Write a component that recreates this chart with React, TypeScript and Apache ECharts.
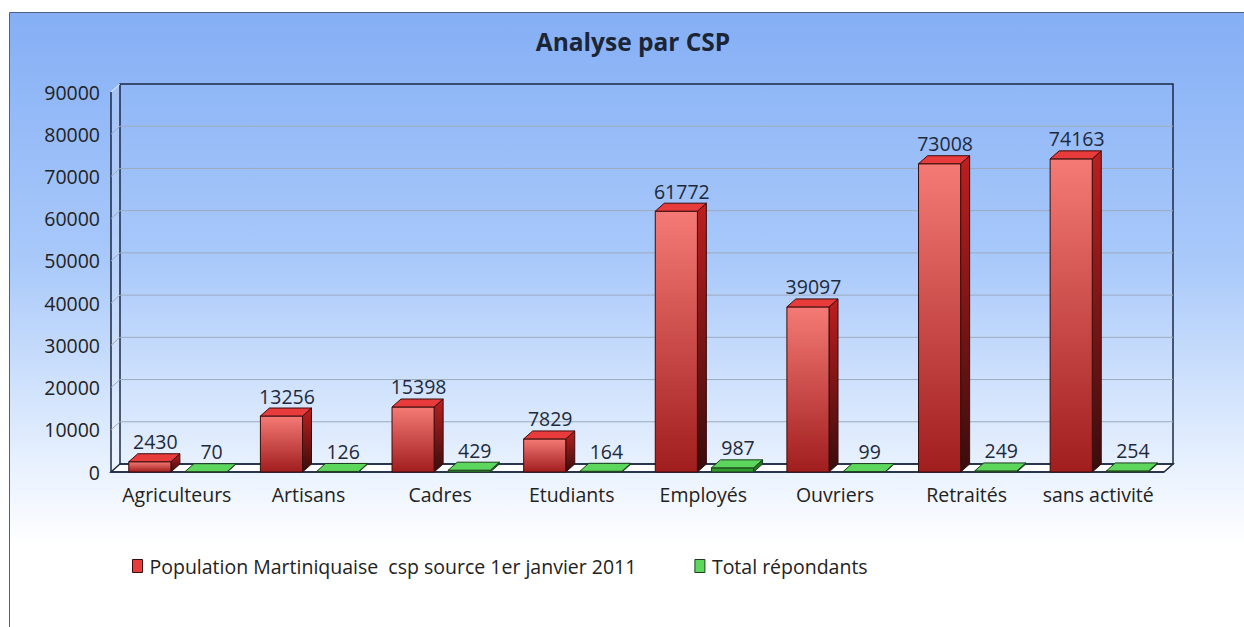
import React, { useEffect, useRef } from "react";
import * as echarts from "echarts";

const categories = ["Agriculteurs", "Artisans", "Cadres", "Etudiants", "Employés", "Ouvriers", "Retraités", "sans activité"];
const population = [2430, 13256, 15398, 7829, 61772, 39097, 73008, 74163];
const repondants = [70, 126, 429, 164, 987, 99, 249, 254];
const yTicks = [0, 10000, 20000, 30000, 40000, 50000, 60000, 70000, 80000, 90000];
const seriesNames = ["Population Martiniquaise  csp source 1er janvier 2011", "Total répondants"];

const DX = 9;
const DY = 8;
const FONT = '"Open Sans", "Noto Sans", sans-serif';

function makeBarRenderer(kind: "red" | "green") {
  return (params: any, api: any) => {
    const idx = api.value(0);
    const val = api.value(1);
    const top = api.coord([idx, val]);
    const base = api.coord([idx, 0]);
    const band = api.size([1, 0])[0];
    const w = band * 0.32;
    const x1 = kind === "red" ? top[0] - band * 0.365 : top[0] + band * 0.062;
    const x2 = x1 + w;
    const yT = top[1];
    const y0 = base[1];
    const stroke = kind === "red" ? "#3a0d0d" : "#1d3d1d";
    const frontFill = kind === "red"
      ? new echarts.graphic.LinearGradient(0, 0, 0, 1, [
          { offset: 0, color: "#f57a75" },
          { offset: 1, color: "#a01e1e" },
        ])
      : "#2e9a2e";
    const topFill = kind === "red" ? "#e83b3b" : "#5cd65c";
    const sideFill = kind === "red"
      ? new echarts.graphic.LinearGradient(0, 0, 0, 1, [
          { offset: 0, color: "#bd1f1f" },
          { offset: 1, color: "#3a0c0c" },
        ])
      : "#237a23";
    const h = Math.max(y0 - yT, 0.5);
    return {
      type: "group",
      children: [
        {
          type: "polygon",
          shape: { points: [[x2, yT], [x2 + DX, yT - DY], [x2 + DX, y0 - DY], [x2, y0]] },
          style: { fill: sideFill, stroke, lineWidth: 1 },
        },
        {
          type: "rect",
          shape: { x: x1, y: y0 - h, width: w, height: h },
          style: { fill: frontFill, stroke, lineWidth: 1 },
        },
        {
          type: "polygon",
          shape: { points: [[x1, yT], [x2, yT], [x2 + DX, yT - DY], [x1 + DX, yT - DY]] },
          style: { fill: topFill, stroke, lineWidth: 1 },
        },
        {
          type: "text",
          style: {
            text: String(val),
            x: x1 + w / 2 + DX / 2 + 1,
            y: yT - 20,
            align: "center",
            verticalAlign: "middle",
            font: `19.5px ${FONT}`,
            fill: "#1e2a3c",
          },
        },
      ],
    };
  };
}

function renderWalls(params: any, api: any) {
  const cs = params.coordSys;
  const v = api.value(1);
  const y = api.coord([0, v])[1];
  const left = cs.x;
  const right = cs.x + cs.width;
  const top = cs.y;
  const bottom = cs.y + cs.height;
  const children: any[] = [];
  if (params.dataIndex === 0) {
    children.push({
      type: "polygon",
      shape: { points: [[left, top], [left + DX, top - DY], [left + DX, bottom - DY], [left, bottom]] },
      style: { fill: "rgba(255,255,255,0.18)" },
    });
    children.push({
      type: "polygon",
      shape: { points: [[left, bottom], [right, bottom], [right + DX, bottom - DY], [left + DX, bottom - DY]] },
      style: { fill: "#ffffff", stroke: "#1c2a44", lineWidth: 1.5 },
    });
    children.push({
      type: "rect",
      shape: { x: left + DX, y: top - DY, width: cs.width, height: cs.height },
      style: { fill: "none", stroke: "#1c2a44", lineWidth: 1.5 },
    });
    children.push({
      type: "polyline",
      shape: { points: [[left, top], [left, bottom], [right, bottom]] },
      style: { fill: "none", stroke: "#1c2a44", lineWidth: 1.5 },
    });
    children.push({
      type: "line",
      shape: { x1: left, y1: top, x2: left + DX, y2: top - DY },
      style: { stroke: "rgba(255,255,255,0.8)", lineWidth: 1 },
    });
  } else if (v < yTicks[yTicks.length - 1]) {
    children.push({
      type: "polyline",
      shape: { points: [[left, y], [left + DX, y - DY], [right + DX, y - DY]] },
      style: { fill: "none", stroke: "#9dabbe", lineWidth: 1 },
    });
  }
  return { type: "group", children };
}

export default function App() {
  const ref = useRef<HTMLDivElement>(null);
  useEffect(() => {
    if (!ref.current) return;
    const chart = echarts.init(ref.current, undefined, { renderer: "svg" });
    chart.setOption({
      animation: false,
      graphic: [
        {
          type: "rect",
          z: -10,
          shape: { x: 9.5, y: 12.5, width: 1240, height: 620 },
          style: {
            fill: new echarts.graphic.LinearGradient(0, 0, 0, 1, [
              { offset: 0, color: "#85aff5" },
              { offset: 0.4, color: "#a9c9fa" },
              { offset: 0.72, color: "#e6f0fe" },
              { offset: 0.86, color: "#ffffff" },
              { offset: 1, color: "#ffffff" },
            ]),
            stroke: "#4f6180",
            lineWidth: 1,
          },
        },
        {
          type: "text",
          z: 10,
          x: 633,
          y: 41,
          style: {
            text: "Analyse par CSP",
            align: "center",
            verticalAlign: "middle",
            font: `bold 24.5px ${FONT}`,
            fill: "#1b2536",
          },
        },
      ],
      legend: {
        left: 127,
        top: 551,
        itemWidth: 10,
        itemHeight: 13,
        itemGap: 58,
        icon: "rect",
        textStyle: { fontSize: 19.5, color: "#222", fontFamily: FONT, padding: [0, 0, 0, 2] },
        data: [
          { name: seriesNames[0], itemStyle: { color: "#e83b3b", borderColor: "#3a0d0d", borderWidth: 1 } },
          { name: seriesNames[1], itemStyle: { color: "#5cd65c", borderColor: "#1d3d1d", borderWidth: 1 } },
        ],
      },
      grid: { left: 111, top: 92, width: 1053, height: 380 },
      xAxis: {
        type: "category",
        data: categories,
        axisLine: { show: false },
        axisTick: { show: false },
        axisLabel: { interval: 0, fontSize: 19.5, color: "#222", fontFamily: FONT, margin: 12 },
      },
      yAxis: {
        type: "value",
        min: 0,
        max: 90000,
        interval: 10000,
        axisLine: { show: false },
        axisTick: { show: false },
        splitLine: { show: false },
        axisLabel: { fontSize: 19.5, color: "#222", fontFamily: FONT, margin: 11, formatter: (v: number) => String(v) },
      },
      series: [
        {
          type: "custom",
          name: "walls",
          z: 1,
          silent: true,
          renderItem: renderWalls,
          data: yTicks.map((t) => [0, t]),
          encode: { x: 0, y: 1 },
        },
        {
          type: "custom",
          name: seriesNames[0],
          z: 3,
          itemStyle: { color: "#e83b3b" },
          renderItem: makeBarRenderer("red"),
          data: population.map((v, i) => [i, v]),
          encode: { x: 0, y: 1 },
        },
        {
          type: "custom",
          name: seriesNames[1],
          z: 3,
          itemStyle: { color: "#5cd65c" },
          renderItem: makeBarRenderer("green"),
          data: repondants.map((v, i) => [i, v]),
          encode: { x: 0, y: 1 },
        },
      ],
    });
    return () => chart.dispose();
  }, []);
  return <div ref={ref} style={{ position: "absolute", left: 0, top: 0, width: 1244, height: 627 }} />;
}
